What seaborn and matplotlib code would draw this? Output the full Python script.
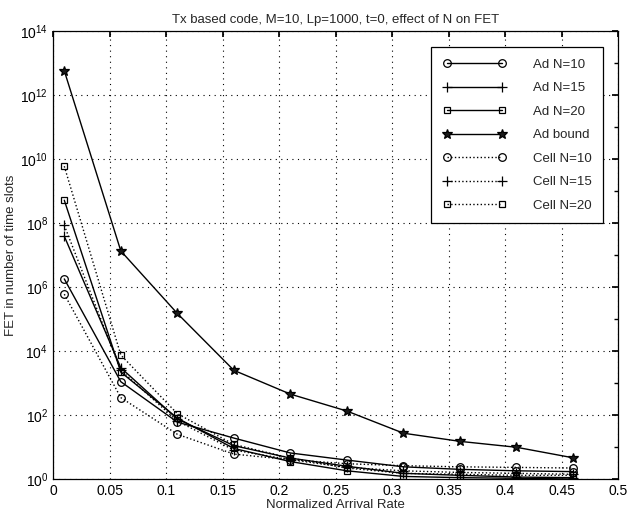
import numpy as np
import pandas as pd
import matplotlib
matplotlib.use("Agg")
import matplotlib.pyplot as plt
import matplotlib.ticker as mticker
import seaborn as sns

x = [0.01, 0.06, 0.11, 0.16, 0.21, 0.26, 0.31, 0.36, 0.41, 0.46]
ad_n10 = [1.8e6, 1.1e3, 60, 19, 6.5, 3.9, 2.4, 2.0, 1.8, 1.7]
ad_n15 = [3.9e7, 3.0e3, 75, 11, 4.5, 2.5, 1.5, 1.3, 1.15, 1.1]
ad_n20 = [5.2e8, 2.2e3, 80, 9, 3.5, 1.8, 1.2, 1.1, 1.05, 1.0]
ad_bound = [5.8e12, 1.35e7, 1.5e5, 2.5e3, 450, 133, 27, 15, 9.8, 4.6]
cell_n10 = [6e5, 350, 25, 6, 4.0, 3.0, 2.6, 2.4, 2.3, 2.2]
cell_n15 = [8.5e7, 2.5e3, 65, 8, 4.0, 2.3, 1.8, 1.6, 1.5, 1.4]
cell_n20 = [6e9, 7.5e3, 110, 12, 4.5, 2.2, 1.5, 1.4, 1.3, 1.3]

series = [
    ("Ad N=10", ad_n10, "-", "o", "none", 5.5),
    ("Ad N=15", ad_n15, "-", "+", "k", 7.5),
    ("Ad N=20", ad_n20, "-", "s", "none", 5),
    ("Ad bound", ad_bound, "-", "*", "k", 7),
    ("Cell N=10", cell_n10, ":", "o", "none", 5.5),
    ("Cell N=15", cell_n15, ":", "+", "k", 7.5),
    ("Cell N=20", cell_n20, ":", "s", "none", 5),
]

sns.set_theme(style="white")
plt.rcParams['font.family'] = ['Liberation Sans', 'DejaVu Sans']
plt.rcParams['mathtext.fontset'] = 'custom'
plt.rcParams['mathtext.rm'] = 'Liberation Sans'
plt.rcParams['mathtext.it'] = 'Liberation Sans'

fig = plt.figure(figsize=(6.27, 5.12), dpi=100)
ax = fig.add_axes([0.0845, 0.0645, 0.9015, 0.8745])

for name, vals, ls, mk, mfc, ms in series:
    df = pd.DataFrame({"x": x, "y": vals})
    sns.lineplot(data=df, x="x", y="y", ax=ax, color="black", linestyle=ls,
                 linewidth=1.0, marker=mk, markersize=ms, markerfacecolor=mfc,
                 markeredgecolor="black", markeredgewidth=0.9, label=name)

ax.set_yscale("log")
ax.set_xlim(0, 0.5)
ax.set_ylim(1, 1e14)
ax.set_xticks(np.arange(0, 0.5001, 0.05))
ax.set_xticklabels(["0", "0.05", "0.1", "0.15", "0.2", "0.25", "0.3", "0.35", "0.4", "0.45", "0.5"])
ax.yaxis.set_major_locator(mticker.FixedLocator([10.0**k for k in range(0, 15, 2)]))
ax.yaxis.set_minor_locator(mticker.FixedLocator([10.0**k for k in range(1, 14, 2)]))
ax.yaxis.set_minor_formatter(mticker.NullFormatter())
ax.yaxis.set_major_formatter(mticker.FuncFormatter(lambda v, p: r"$10^{%d}$" % round(np.log10(v))))

ax.grid(True, which="major", color="black", linestyle=(0, (1, 4)), linewidth=0.8)
ax.tick_params(axis="both", which="both", direction="in", top=True, right=True,
               labelsize=10, colors="black", length=4)
ax.tick_params(axis="y", which="minor", length=3)
for s in ax.spines.values():
    s.set_color("black")
    s.set_linewidth(0.9)

ax.set_xlabel("Normalized Arrival Rate", fontsize=9.5, labelpad=1)
ax.set_ylabel("FET in number of time slots", fontsize=9.5, labelpad=2)
ax.set_title("Tx based code, M=10, Lp=1000, t=0, effect of N on FET", fontsize=9.5, pad=6)

leg = ax.legend(loc="upper right", bbox_to_anchor=(0.985, 0.98), numpoints=2,
                handlelength=4.8, labelspacing=0.85, fontsize=9.5, frameon=True,
                fancybox=False, borderpad=0.9, handletextpad=2.0)
leg.get_frame().set_edgecolor("black")
leg.get_frame().set_linewidth(0.9)
leg.get_frame().set_alpha(1)

fig.savefig("out.png", dpi=100, facecolor="white")
